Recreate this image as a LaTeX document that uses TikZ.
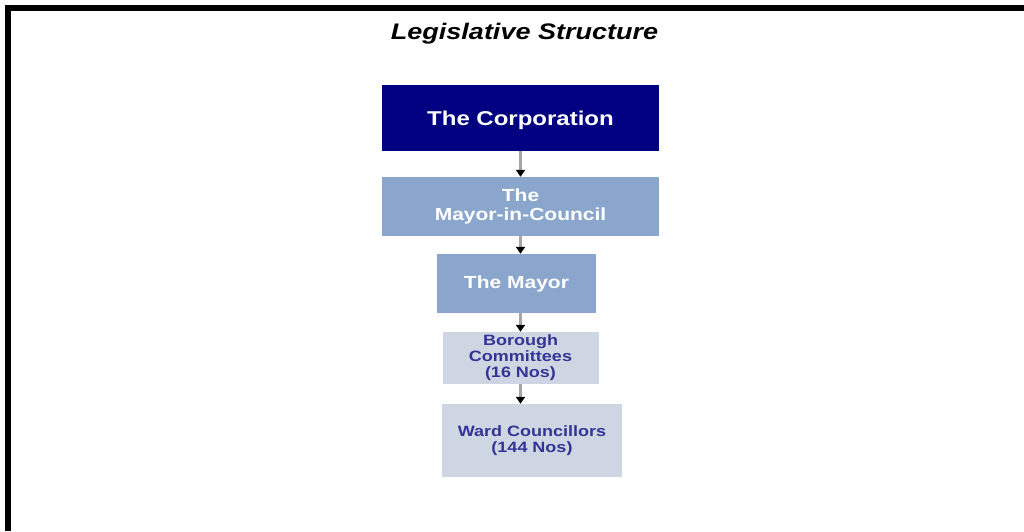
\documentclass[tikz,border=0pt]{standalone}
\usepackage{fontspec}
\usetikzlibrary{arrows.meta}
\newfontfamily\wide{Liberation Sans}[FakeStretch=1.2]
\definecolor{corpblue}{RGB}{0,0,128}
\definecolor{midblue}{RGB}{139,166,204}
\definecolor{paleblue}{RGB}{205,214,226}
\definecolor{inkblue}{RGB}{52,52,150}
\definecolor{linkgray}{RGB}{166,166,166}
\newcommand{\fs}[2]{\fontsize{#1}{#2}\selectfont}

\begin{document}
\begin{tikzpicture}[x=1pt,y=-1pt,
    box/.style={inner sep=0pt,align=center},
    link/.style={draw=linkgray,line width=2.5pt,-{Triangle[black,width=9pt,length=7pt]}}]
                \useasboundingbox (0,0) rectangle (1024,531);
                \draw[line width=6pt] (7.5,531)--(7.5,7.5)--(1024,7.5);
                \node[font=\wide\bfseries\itshape\fs{22.5}{26},anchor=base] (title) at (524.5,39) {Legislative Structure};
                \node[box,fill=corpblue,text=white,minimum width=277pt,minimum height=66pt,font=\wide\bfseries\fs{20}{24},text depth=0pt] (corp) at (520.5,118) {The Corporation};
                \node[box,fill=midblue,text=white,minimum width=277pt,minimum height=59pt,font=\wide\bfseries\fs{17.5}{19.5}] (mic) at (520.5,206.5) {The\\Mayor-in-Council};
                \node[box,fill=midblue,text=white,minimum width=159pt,minimum height=59pt,font=\wide\bfseries\fs{17.5}{19.5}] (mayor) at (516.5,283.5) {The Mayor};
                \node[box,fill=paleblue,text=inkblue,minimum width=156pt,minimum height=52pt,font=\wide\bfseries\fs{15}{16}] (borough) at (520.5,358) {Borough\\Committees\\(16 Nos)};
                \node[box,fill=paleblue,text=inkblue,minimum width=180pt,minimum height=73pt,font=\wide\bfseries\fs{15}{15.5}] (ward) at (532,440.5) {Ward Councillors\\(144 Nos)};
                \draw[link] (corp.south)--(mic.north);
                \draw[link] (mic.south)--(mic.south |- mayor.north);
                \draw[link] (mic.south |- mayor.south)--(borough.north);
                \draw[link] (borough.south)--(borough.south |- ward.north);
            \end{tikzpicture}
\end{document}
